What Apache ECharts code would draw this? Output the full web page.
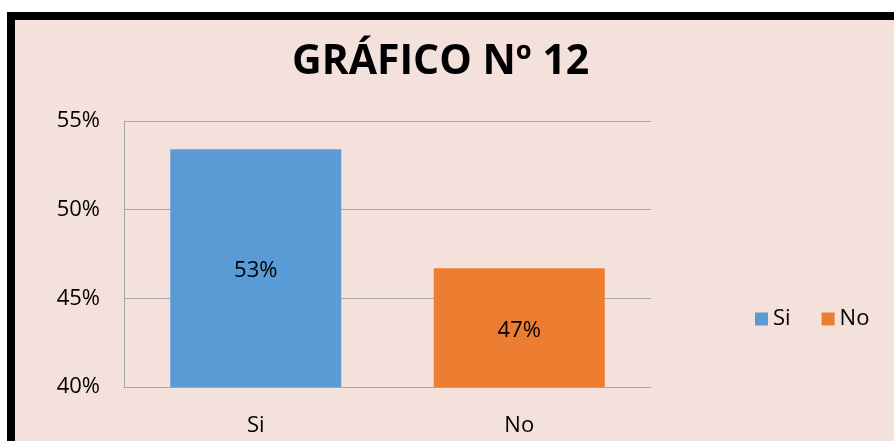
<!DOCTYPE html>
<html>
<head>
<meta charset="utf-8">
<script src="https://cdn.jsdelivr.net/npm/echarts@6/dist/echarts.min.js"></script>
<style>
  html, body { margin: 0; padding: 0; background: #fff; }
  #bg {
    position: absolute; left: 7px; top: 12px; width: 887px; height: 429px;
    box-sizing: border-box; border-left: 8px solid #000; border-top: 8px solid #000;
    background: #F5E1DB;
  }
  #chart { position: absolute; left: 0; top: 0; width: 894px; height: 441px; }
</style>
</head>
<body>
<div id="bg"></div>
<div id="chart"></div>
<script>
// datos del gráfico
const categories = ['Si', 'No'];
const values = [53.4, 46.7];
const colors = ['#5B9BD5', '#ED7D31'];
const yTicks = [40, 45, 50, 55];

const font = '"Open Sans", "Noto Sans", sans-serif';
const chart = echarts.init(document.getElementById('chart'));

const options = {
  backgroundColor: 'transparent',
  title: {
    text: 'GRÁFICO Nº 12',
    left: 287,
    top: 37,
    textStyle: { fontFamily: font, fontSize: 41, fontWeight: 'bold', color: '#000' },
  },
  legend: {
    left: 750,
    top: 303,
    itemWidth: 13,
    itemHeight: 13,
    itemGap: 31,
    icon: 'rect',
    textStyle: { fontFamily: font, fontSize: 22, color: '#000' },
    data: categories,
  },
  grid: { left: 124, right: 243, top: 121, bottom: 54 },
  xAxis: {
    type: 'category',
    data: categories,
    axisLine: { lineStyle: { color: '#A6A6A6', width: 1 } },
    axisTick: { show: false },
    axisLabel: { fontFamily: font, fontSize: 22, color: '#000', margin: 28 },
  },
  yAxis: {
    type: 'value',
    min: yTicks[0],
    max: yTicks[yTicks.length - 1],
    interval: 5,
    axisLine: { show: true, lineStyle: { color: '#A6A6A6', width: 1 } },
    axisTick: { show: false },
    splitLine: { lineStyle: { color: '#A6A6A6', width: 1 } },
    axisLabel: { fontFamily: font, fontSize: 22, color: '#000', margin: 24, formatter: '{value}%' },
  },
  series: categories.map((name, i) => ({
    name,
    type: 'bar',
    stack: 'all',
    barWidth: 171,
    itemStyle: { color: colors[i] },
    data: categories.map((c, j) => (j === i ? values[i] : '-')),
    label: {
      show: true,
      position: 'inside',
      offset: [0, 3],
      fontFamily: font,
      fontSize: 22,
      color: '#000',
      formatter: (p) => Math.round(p.value) + '%',
    },
  })),
};

chart.setOption(options);
window.addEventListener('resize', chart.resize);
</script>
</body>
</html>
